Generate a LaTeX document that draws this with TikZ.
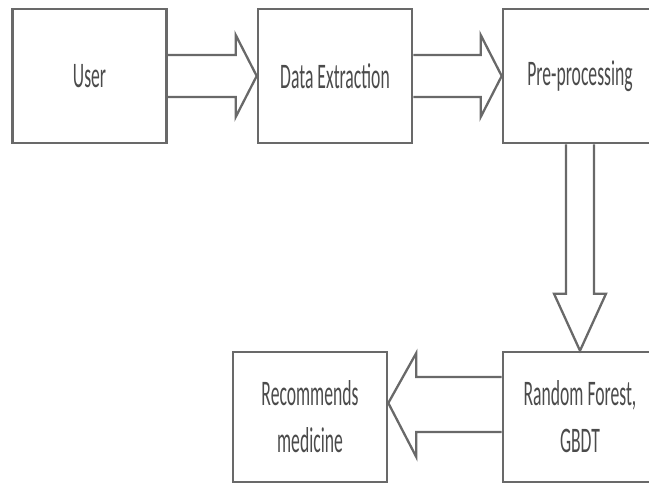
\documentclass[tikz,border=0pt]{standalone}
\usepackage{fontspec}
\newfontfamily\boxfont[FakeStretch=0.49]{Carlito}
\definecolor{linegray}{RGB}{105,105,105}
\definecolor{textgray}{RGB}{75,75,75}
\usepackage{tikz}
\usetikzlibrary{calc}

\begin{document}
\begin{tikzpicture}[x=1pt,y=-1pt,
    box/.style={draw=linegray,line width=2.6pt,minimum width=154pt,inner sep=0pt,
        text=textgray,align=center,font=\boxfont\fontsize{36}{47}\selectfont},
    flow/.style={draw=linegray,line width=2.3pt,line join=miter}]
    \clip (0,0) rectangle (649,484);
    \useasboundingbox (0,0) rectangle (649,484);

    % Top row
    \node[box,minimum height=134pt] (user) at (89.5,76) {User};
    \node[box,minimum height=134pt] (data) at (335,76) {Data Extraction};
    \node[box,minimum height=134pt] (pre) at (580,76) {Pre-processing};

    % Bottom row
    \node[box,minimum height=130pt] (rf) at (580,417) {Random Forest,\\GBDT};
    \node[box,minimum height=130pt] (rec) at (310,417) {Recommends\\medicine};

    % User -> Data Extraction
    \draw[flow] ($(user.east)+(0,-21)$) -- ($(data.west)+(-21,-21)$) -- ($(data.west)+(-21,-41)$)
        -- (data.west) -- ($(data.west)+(-21,41)$) -- ($(data.west)+(-21,21)$) -- ($(user.east)+(0,21)$);

    % Data Extraction -> Pre-processing
    \draw[flow] ($(data.east)+(0,-21)$) -- ($(pre.west)+(-21,-21)$) -- ($(pre.west)+(-21,-41)$)
        -- (pre.west) -- ($(pre.west)+(-21,41)$) -- ($(pre.west)+(-21,21)$) -- ($(data.east)+(0,21)$);

    % Pre-processing -> Random Forest
    \draw[flow] ($(pre.south)+(-14,0)$) -- ($(rf.north)+(-14,-57)$) -- ($(rf.north)+(-26,-57)$)
        -- (rf.north) -- ($(rf.north)+(26,-57)$) -- ($(rf.north)+(14,-57)$) -- ($(pre.south)+(14,0)$);

    % Random Forest -> Recommends medicine
    \coordinate (tip) at ($(rec.east)+(0,-14)$);
    \draw[flow] ($(rf.west)+(0,-40)$) -- ($(tip)+(28,-26)$) -- ($(tip)+(28,-50)$)
        -- (tip) -- ($(tip)+(28,54)$) -- ($(tip)+(28,29)$) -- ($(rf.west)+(0,15)$);
\end{tikzpicture}
\end{document}
